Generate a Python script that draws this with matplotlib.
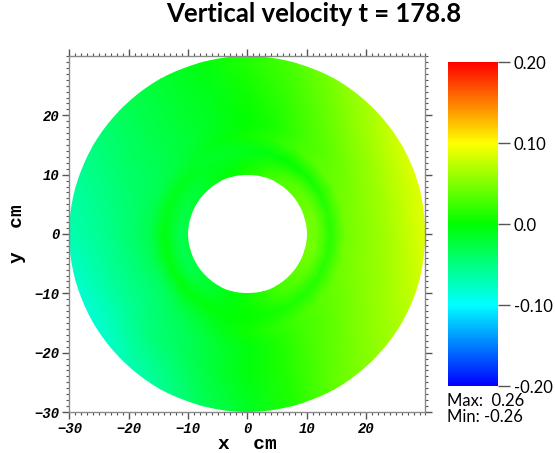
import numpy as np
import matplotlib
matplotlib.use("Agg")
import matplotlib.pyplot as plt
from matplotlib.colors import LinearSegmentedColormap, Normalize
from matplotlib.patches import Wedge
from matplotlib.ticker import MultipleLocator

theta_deg = list(range(0, 361, 15))
radius_cm = [10, 11.5, 14, 16.5, 19, 24, 30]
w_field = [
    [0.045, 0.045, 0.015, 0.045, 0.050, 0.065, 0.090],      # 0
    [0.045, 0.045, 0.015, 0.045, 0.050, 0.065, 0.090],      # 15
    [0.040, 0.040, 0.010, 0.040, 0.045, 0.060, 0.085],      # 30
    [0.035, 0.035, 0.005, 0.035, 0.035, 0.050, 0.070],      # 45
    [0.030, 0.025, 0.000, 0.025, 0.025, 0.035, 0.050],      # 60
    [0.020, 0.015, -0.005, 0.015, 0.010, 0.020, 0.030],     # 75
    [0.010, 0.005, -0.010, 0.005, 0.000, 0.005, 0.015],     # 90
    [0.000, -0.005, -0.015, -0.005, -0.010, -0.010, -0.005],  # 105
    [-0.010, -0.010, -0.015, -0.015, -0.020, -0.020, -0.020],  # 120
    [-0.015, -0.020, -0.012, -0.025, -0.028, -0.030, -0.035],  # 135
    [-0.020, -0.025, -0.010, -0.030, -0.035, -0.040, -0.050],  # 150
    [-0.025, -0.028, -0.008, -0.030, -0.038, -0.050, -0.062],  # 165
    [-0.025, -0.030, -0.005, -0.030, -0.040, -0.055, -0.070],  # 180
    [-0.025, -0.030, -0.005, -0.032, -0.043, -0.058, -0.080],  # 195
    [-0.025, -0.030, -0.005, -0.035, -0.045, -0.060, -0.085],  # 210
    [-0.020, -0.022, -0.005, -0.028, -0.038, -0.050, -0.075],  # 225
    [-0.015, -0.015, -0.005, -0.020, -0.030, -0.040, -0.060],  # 240
    [-0.005, -0.005, -0.003, -0.008, -0.018, -0.022, -0.035],  # 255
    [0.005, 0.005, 0.000, 0.005, -0.005, -0.005, -0.015],   # 270
    [0.015, 0.015, 0.005, 0.015, 0.010, 0.012, 0.012],      # 285
    [0.025, 0.025, 0.010, 0.025, 0.025, 0.030, 0.040],      # 300
    [0.033, 0.033, 0.012, 0.033, 0.035, 0.045, 0.055],      # 315
    [0.040, 0.040, 0.015, 0.040, 0.045, 0.055, 0.070],      # 330
    [0.045, 0.045, 0.015, 0.045, 0.050, 0.062, 0.082],      # 345
    [0.045, 0.045, 0.015, 0.045, 0.050, 0.065, 0.090],      # 360
]
cbar_ticks = [-0.20, -0.10, 0.0, 0.10, 0.20]
cbar_labels = ["-0.20", "-0.10", "0.0", "0.10", "0.20"]
field_max, field_min = 0.26, -0.26
sim_time = 178.8
r_inner, r_outer = 10, 30

# VisIt-style "hot" colour table
cmap = LinearSegmentedColormap.from_list(
    "visit_hot", ["#0000ff", "#00ffff", "#00ff00", "#ffff00", "#ff0000"])
norm = Normalize(vmin=-0.2, vmax=0.2)

fig = plt.figure(figsize=(5.55, 4.53), dpi=100)
ax = fig.add_axes([0.1243, 0.0905, 0.6432, 0.7859])

th = np.deg2rad(np.asarray(theta_deg, dtype=float))
rr = np.asarray(radius_cm, dtype=float)
# push outer ring out so chords don't cut the circle; clipped below
dth = th[1] - th[0]
rr_geom = rr.copy()
rr_geom[-1] = rr[-1] / np.cos(dth / 2) + 0.2
T, R = np.meshgrid(th, rr_geom, indexing="ij")
X = R * np.cos(T)
Y = R * np.sin(T)
C = np.asarray(w_field)

mesh = ax.pcolormesh(X, Y, C, cmap=cmap, norm=norm, shading="gouraud")
ring = Wedge((0, 0), r_outer, 0, 360, width=r_outer - r_inner,
             transform=ax.transData)
mesh.set_clip_path(ring)

ax.set_xlim(-30, 30)
ax.set_ylim(-30, 30)
ax.set_aspect("equal")

frame_col = "#8a8a8a"
for s in ax.spines.values():
    s.set_color(frame_col)
    s.set_linewidth(1.0)
ax.xaxis.set_major_locator(MultipleLocator(10))
ax.yaxis.set_major_locator(MultipleLocator(10))
ax.xaxis.set_minor_locator(MultipleLocator(1))
ax.yaxis.set_minor_locator(MultipleLocator(1))
ax.tick_params(which="both", direction="out", color="#555555",
               top=True, right=True, labeltop=False, labelright=False)
ax.tick_params(which="major", length=5, width=1, pad=2)
ax.tick_params(which="minor", length=2.5, width=0.8)

tick_font = dict(family="Liberation Mono", weight="bold", style="italic", size=10)
ax.set_xticks([-30, -20, -10, 0, 10, 20])
ax.set_yticks([-30, -20, -10, 0, 10, 20])
ax.set_xticklabels(["\u221230", "\u221220", "\u221210", "0", "10", "20"], **tick_font)
ax.set_yticklabels(["\u221230", "\u221220", "\u221210", "0", "10", "20"], **tick_font)

label_font = dict(family="Liberation Mono", weight="bold", size=14)
ax.set_xlabel("x  cm", labelpad=0, **label_font)
ax.set_ylabel("y  cm", labelpad=6, **label_font)

fig.text(0.565, 0.968, f"Vertical velocity t = {sim_time}", ha="center",
         va="center", family="Lato", weight="bold", size=18.5)

# colour bar
cax = fig.add_axes([0.8072, 0.1479, 0.0901, 0.7152])
sm = matplotlib.cm.ScalarMappable(norm=norm, cmap=cmap)
cb = fig.colorbar(sm, cax=cax, ticks=cbar_ticks)
cb.outline.set_visible(False)
cb.ax.set_yticklabels(cbar_labels, family="Lato", size=12)
cb.ax.tick_params(length=8.5, width=1, color="#555555", pad=3)
cb.ax.minorticks_off()

fig.text(0.806, 0.097, f"Max:  {field_max:.2f}\nMin: {field_min:.2f}",
         ha="left", va="center", family="Lato", size=12, linespacing=1.05)

fig.savefig("out.png", dpi=100)
